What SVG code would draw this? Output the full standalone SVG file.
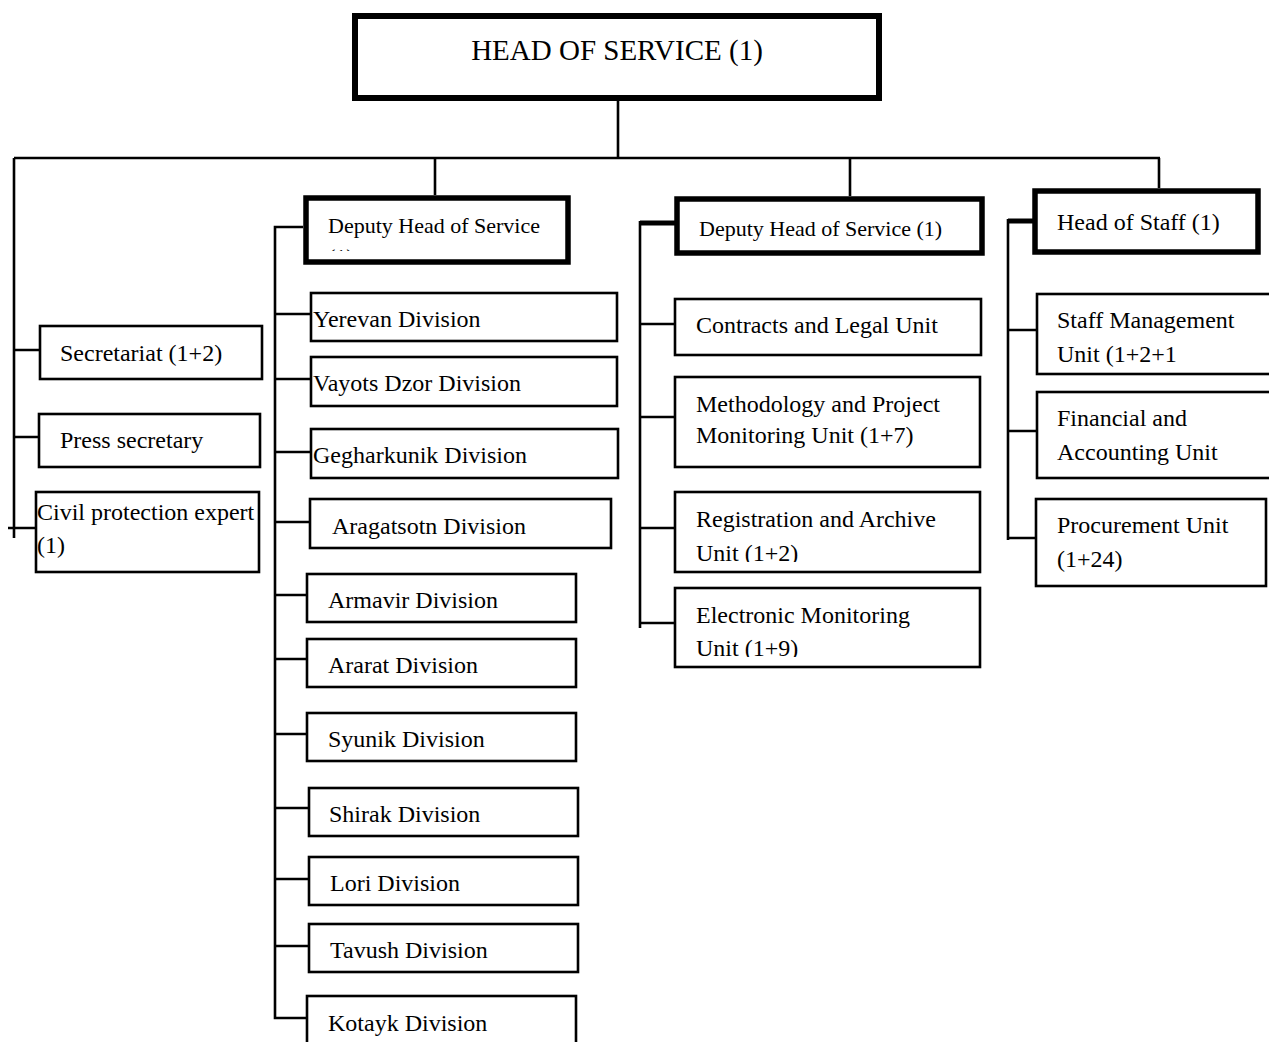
<svg xmlns="http://www.w3.org/2000/svg" width="1269" height="1042" viewBox="0 0 1269 1042">
<style>
.bx{fill:#fff;stroke:#000;stroke-width:2.6}
.tk{fill:#fff;stroke:#000;stroke-width:5.5}
.t{font-family:"Liberation Serif","Times New Roman",serif;font-size:24px;fill:#000}
.d{font-size:22px}
.h{font-size:29px}
.c{fill:none;stroke:#000;stroke-width:2.6}
.ct{fill:none;stroke:#000;stroke-width:5}
</style>
<defs>
<clipPath id="cD1"><rect x="308" y="200" width="258" height="51"/></clipPath>
<clipPath id="cCiv"><rect x="30" y="490" width="228" height="85"/></clipPath>
<clipPath id="cReg"><rect x="670" y="490" width="315" height="72"/></clipPath>
<clipPath id="cEl"><rect x="670" y="585" width="315" height="72"/></clipPath>
</defs>
<rect width="1269" height="1042" fill="#fff"/>
<g id="connectors">
<path class="c" d="M618,100V158M14,158H1160M435,158V195M850,158V196M1159,158V188"/>
<path class="c" d="M14,158V538M14,350H39M14,437H38M8,528H35"/>
<path class="c" d="M303,227H275V1018H306M275,314H310M275,379H310M275,452H310M275,522H309M275,595H306M275,659H306M275,734H306M275,808H308M275,879H308M275,946H308"/>
<path class="ct" d="M676,223H640"/>
<path class="c" d="M640,221V628M640,324H674M640,417H674M640,528H674M640,623H674"/>
<path class="ct" d="M1034,221H1008"/>
<path class="c" d="M1008,219V540M1008,330H1036M1008,431H1036M1008,538H1035"/>
</g>
<g id="head"><rect class="tk" x="355" y="16" width="524" height="82" style="stroke-width:6"/><text class="t h" x="617" y="60" text-anchor="middle">HEAD OF SERVICE (1)</text></g>
<g id="deputy1"><rect class="tk" x="306" y="198" width="262" height="64"/><g clip-path="url(#cD1)"><text class="t d" x="328" y="233">Deputy Head of Service</text><text class="t d" x="328" y="264">(1)</text></g></g>
<g id="deputy2"><rect class="tk" x="677" y="199" width="305" height="54"/><text class="t d" x="699" y="236">Deputy Head of Service (1)</text></g>
<g id="headstaff"><rect class="tk" x="1035" y="191" width="223" height="61"/><text class="t" x="1057" y="230">Head of Staff (1)</text></g>
<g id="secretariat"><rect class="bx" x="40" y="326" width="222" height="53"/><text class="t" x="60" y="361">Secretariat (1+2)</text></g>
<g id="press"><rect class="bx" x="39" y="414" width="221" height="53"/><text class="t" x="60" y="448">Press secretary</text></g>
<g id="civil"><rect class="bx" x="36" y="492" width="223" height="80"/><g clip-path="url(#cCiv)"><text class="t" x="37" y="520">Civil protection expert</text><text class="t" x="37" y="553">(1)</text></g></g>
<g id="yerevan"><rect class="bx" x="311" y="293" width="306" height="48"/><text class="t" x="313" y="327">Yerevan Division</text></g>
<g id="vayots"><rect class="bx" x="311" y="357" width="306" height="49"/><text class="t" x="313" y="391">Vayots Dzor Division</text></g>
<g id="gegharkunik"><rect class="bx" x="311" y="429" width="307" height="49"/><text class="t" x="313" y="463">Gegharkunik Division</text></g>
<g id="aragatsotn"><rect class="bx" x="310" y="499" width="301" height="49"/><text class="t" x="332" y="534">Aragatsotn Division</text></g>
<g id="armavir"><rect class="bx" x="307" y="574" width="269" height="48"/><text class="t" x="328" y="608">Armavir Division</text></g>
<g id="ararat"><rect class="bx" x="307" y="639" width="269" height="48"/><text class="t" x="328" y="673">Ararat Division</text></g>
<g id="syunik"><rect class="bx" x="307" y="713" width="269" height="48"/><text class="t" x="328" y="747">Syunik Division</text></g>
<g id="shirak"><rect class="bx" x="309" y="788" width="269" height="48"/><text class="t" x="329" y="822">Shirak Division</text></g>
<g id="lori"><rect class="bx" x="309" y="857" width="269" height="48"/><text class="t" x="330" y="891">Lori Division</text></g>
<g id="tavush"><rect class="bx" x="309" y="924" width="269" height="48"/><text class="t" x="330" y="958">Tavush Division</text></g>
<g id="kotayk"><rect class="bx" x="307" y="996" width="269" height="60"/><text class="t" x="328" y="1031">Kotayk Division</text></g>
<g id="contracts"><rect class="bx" x="675" y="299" width="306" height="56"/><text class="t" x="696" y="333">Contracts and Legal Unit</text></g>
<g id="methodology"><rect class="bx" x="675" y="377" width="305" height="90"/><text class="t" x="696" y="412">Methodology and Project</text><text class="t" x="696" y="443">Monitoring Unit (1+7)</text></g>
<g id="registration"><rect class="bx" x="675" y="492" width="305" height="80"/><text class="t" x="696" y="527">Registration and Archive</text><g clip-path="url(#cReg)"><text class="t" x="696" y="561">Unit (1+2)</text></g></g>
<g id="electronic"><rect class="bx" x="675" y="588" width="305" height="79"/><text class="t" x="696" y="623">Electronic Monitoring</text><g clip-path="url(#cEl)"><text class="t" x="696" y="656">Unit (1+9)</text></g></g>
<g id="staffmgmt"><rect class="bx" x="1037" y="294" width="245" height="80"/><text class="t" x="1057" y="328">Staff Management</text><text class="t" x="1057" y="362">Unit (1+2+1</text></g>
<g id="financial"><rect class="bx" x="1037" y="392" width="245" height="86"/><text class="t" x="1057" y="426">Financial and</text><text class="t" x="1057" y="460">Accounting Unit</text></g>
<g id="procurement"><rect class="bx" x="1036" y="499" width="230" height="87"/><text class="t" x="1057" y="533">Procurement Unit</text><text class="t" x="1057" y="567">(1+24)</text></g>
</svg>
